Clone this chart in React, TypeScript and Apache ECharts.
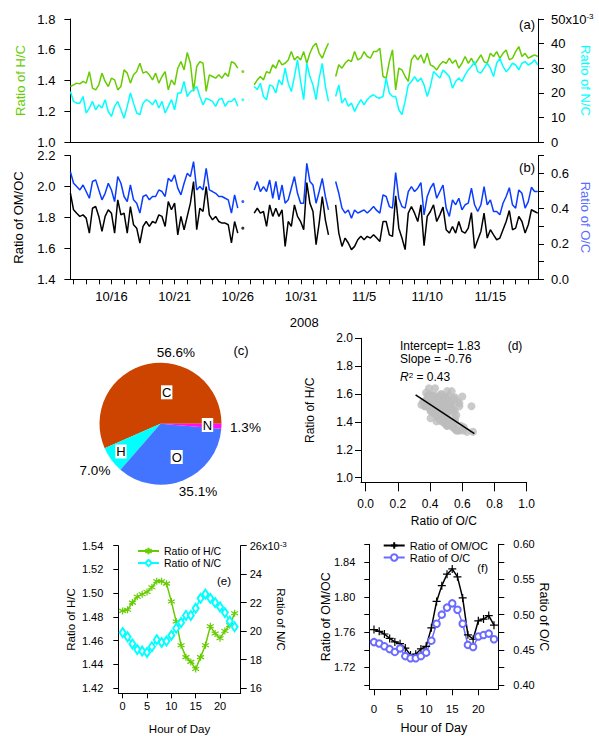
import React, { useEffect, useRef } from 'react';
import * as echarts from 'echarts';

const FONT = 'Liberation Sans, Arial, Helvetica, sans-serif';

// ---------- (a)/(b) time series: day-of-October numbering (11/1 = 32 -> 31+1) ----------
// continuous segments, 6-hourly values
const SEG_START = [12.75, 27.3, 33.75];
const SEG_STEP = [0.25, 0.245, 0.25];

const HC_SEG1 = [
  1.361, 1.372, 1.383, 1.378, 1.394, 1.383, 1.458, 1.35, 1.339, 1.372,
  1.448, 1.394, 1.361, 1.415, 1.404, 1.339, 1.361, 1.469, 1.448, 1.383,
  1.437, 1.458, 1.512, 1.448, 1.458, 1.437, 1.404, 1.448, 1.383, 1.426,
  1.458, 1.339, 1.404, 1.372, 1.48, 1.523, 1.469, 1.582, 1.512, 1.329,
  1.491, 1.523, 1.512, 1.329, 1.437, 1.426, 1.415, 1.437, 1.415, 1.448,
  1.426, 1.523, 1.512, 1.48,
];
const HC_SEG2 = [
  1.372, 1.404, 1.426, 1.404, 1.458, 1.448, 1.502, 1.48, 1.534, 1.502,
  1.512, 1.534, 1.588, 1.534, 1.556, 1.534, 1.588, 1.512, 1.577, 1.621,
  1.642, 1.577, 1.545, 1.599, 1.642,
];
const HC_SEG3 = [
  1.426, 1.502, 1.48, 1.512, 1.534, 1.523, 1.588, 1.534, 1.545, 1.588,
  1.556, 1.545, 1.588, 1.588, 1.61, 1.426, 1.415, 1.523, 1.599, 1.339,
  1.48, 1.469, 1.426, 1.394, 1.534, 1.567, 1.534, 1.567, 1.512, 1.577,
  1.502, 1.491, 1.469, 1.502, 1.523, 1.512, 1.545, 1.512, 1.534, 1.48,
  1.512, 1.556, 1.512, 1.545, 1.502, 1.534, 1.567, 1.523, 1.512, 1.577,
  1.556, 1.588, 1.545, 1.577, 1.599, 1.534, 1.545, 1.588, 1.621, 1.556,
  1.577, 1.545, 1.556, 1.567, 1.556,
];

// N/C in units of 1e-3
const NC_SEG1 = [
  20.5, 16.5, 15.8, 15.8, 18.5, 11.8, 13.8, 16.5, 13.1, 15.1,
  13.8, 17.2, 12.4, 10.4, 14.5, 16.5, 13.1, 9.7, 14.5, 19.9,
  15.8, 11.8, 11.1, 15.8, 17.2, 16.5, 15.1, 17.2, 13.8, 16.5,
  11.8, 14.5, 17.2, 13.1, 19.9, 19.9, 24.6, 18.5, 20.5, 21.3,
  22.6, 18.5, 15.1, 17.8, 17.2, 16.5, 14.5, 17.2, 17.8, 14.5,
  16.5, 16.5, 17.8, 14.5,
];
const NC_SEG2 = [
  22.6, 21.3, 23.9, 18.5, 17.2, 23.2, 22.6, 19.9, 25.3, 23.2,
  30.0, 23.9, 20.5, 26.6, 33.4, 24.6, 17.2, 32.0, 26.6, 23.2,
  17.2, 26.0, 32.0, 22.6, 16.5,
];
const NC_SEG3 = [
  18.5, 23.2, 15.8, 17.8, 14.5, 15.8, 12.4, 15.1, 17.2, 15.1,
  17.2, 18.5, 19.2, 18.2, 17.8, 18.5, 26.0, 19.9, 18.5, 18.5,
  13.1, 11.1, 16.5, 23.2, 24.6, 26.6, 24.6, 26.0, 23.2, 18.5,
  22.6, 28.6, 27.3, 26.0, 29.3, 28.0, 26.6, 21.9, 24.6, 26.0,
  24.6, 27.3, 29.3, 30.7, 32.7, 28.6, 28.0, 30.0, 32.0, 30.0,
  26.6, 32.0, 34.0, 30.7, 28.6, 30.0, 32.0, 31.3, 29.3, 32.0,
  32.7, 31.3, 32.0, 33.4, 31.3,
];

const OMOC_SEG1 = [
  1.957, 1.85, 1.828, 1.807, 1.817, 1.796, 1.699, 1.86, 1.871, 1.807,
  1.71, 1.807, 1.85, 1.828, 1.699, 1.914, 1.817, 1.828, 1.699, 1.871,
  1.753, 1.731, 1.635, 1.742, 1.774, 1.742, 1.774, 1.764, 1.817, 1.807,
  1.742, 1.903, 1.85, 1.893, 1.688, 1.807, 1.721, 1.807, 1.893, 2.032,
  1.721, 1.86, 1.839, 2.0, 1.817, 1.785, 1.807, 1.774, 1.764, 1.764,
  1.753, 1.635, 1.774, 1.699,
];
const OMOC_SEG2 = [
  1.828, 1.86, 1.828, 1.839, 1.742, 1.882, 1.807, 1.86, 1.807, 1.85,
  1.613, 1.774, 1.742, 1.882, 1.807, 1.774, 1.721, 2.026, 1.893, 1.839,
  1.624, 1.764, 1.936, 1.785, 1.688,
];
const OMOC_SEG3 = [
  1.882, 1.699, 1.613, 1.667, 1.635, 1.592, 1.613, 1.656, 1.678, 1.656,
  1.678, 1.667, 1.688, 1.667, 1.645, 1.774, 1.774, 1.688, 1.678, 1.94,
  1.731, 1.667, 1.592, 1.828, 1.871, 1.828, 1.774, 1.882, 1.617, 1.807,
  1.839, 1.882, 1.774, 1.817, 1.867, 1.721, 1.699, 1.742, 1.699, 1.774,
  1.71, 1.699, 1.731, 1.832, 1.6, 1.656, 1.71, 1.828, 1.667, 1.721,
  1.688, 1.656, 1.667, 1.721, 1.774, 1.845, 1.721, 1.731, 1.807, 1.774,
  1.699, 1.753, 1.85, 1.839, 1.828,
];

const OC_SEG1 = [
  0.61, 0.544, 0.525, 0.506, 0.534, 0.497, 0.459, 0.554, 0.563, 0.506,
  0.45, 0.487, 0.544, 0.506, 0.44, 0.582, 0.544, 0.469, 0.44, 0.534,
  0.45, 0.431, 0.375, 0.469, 0.478, 0.45, 0.469, 0.469, 0.506, 0.497,
  0.469, 0.572, 0.554, 0.591, 0.516, 0.478, 0.544, 0.6, 0.582, 0.666,
  0.506, 0.525, 0.506, 0.629, 0.506, 0.497, 0.487, 0.469, 0.469, 0.459,
  0.45, 0.375, 0.478, 0.403,
];
const OC_SEG2 = [
  0.506, 0.554, 0.497, 0.525, 0.497, 0.563, 0.459, 0.554, 0.45, 0.534,
  0.431, 0.45, 0.516, 0.582, 0.487, 0.431, 0.431, 0.657, 0.554, 0.534,
  0.431, 0.497, 0.572, 0.469, 0.393,
];
const OC_SEG3 = [
  0.554, 0.487, 0.403, 0.375, 0.393, 0.346, 0.393, 0.375, 0.384, 0.393,
  0.375, 0.393, 0.412, 0.39, 0.375, 0.478, 0.469, 0.412, 0.403, 0.604,
  0.459, 0.412, 0.403, 0.497, 0.525, 0.497, 0.516, 0.548, 0.365, 0.469,
  0.516, 0.544, 0.459, 0.497, 0.534, 0.403, 0.356, 0.45, 0.422, 0.459,
  0.393, 0.422, 0.431, 0.516, 0.422, 0.384, 0.422, 0.525, 0.422, 0.45,
  0.384, 0.384, 0.365, 0.431, 0.469, 0.519, 0.422, 0.403, 0.506, 0.487,
  0.403, 0.44, 0.521, 0.497, 0.497,
];

// isolated sample inside the first data gap
const ISO_DAY = 26.4;
const ISO_HC = 1.458;
const ISO_NC = 17.2;
const ISO_OMOC = 1.731;
const ISO_OC = 0.44;

const DATE_LABELS = ['10/16', '10/21', '10/26', '10/31', '11/5', '11/10', '11/15'];

// ---------- (c) elemental composition ----------
const PIE_NAMES = ['C', 'H', 'O', 'N'];
const PIE_VALUES = [56.6, 7.0, 35.1, 1.3];
const PIE_COLORS = ['#cc4400', '#00ffff', '#4274ff', '#ff10f0'];

// ---------- (d) regression ----------
const FIT_INTERCEPT = 1.83;
const FIT_SLOPE = -0.76;
const FIT_R2 = 0.43;
const FIT_X = [0.31, 0.675];

// ---------- (e)/(f) diurnal cycles ----------
const HOURS = [0, 1, 2, 3, 4, 5, 6, 7, 8, 9, 10, 11, 12, 13, 14, 15, 16, 17, 18, 19, 20, 21, 22, 23];
const DIURNAL_HC = [1.485, 1.486, 1.492, 1.497, 1.499, 1.501, 1.505, 1.510, 1.510, 1.508, 1.493, 1.476,
  1.456, 1.446, 1.442, 1.436, 1.446, 1.456, 1.472, 1.466, 1.462, 1.468, 1.473, 1.483];
const DIURNAL_NC = [19.9, 19.6, 19.1, 18.7, 18.6, 18.5, 18.9, 19.4, 19.2, 19.3, 19.7, 20.2,
  20.6, 21.1, 21.1, 21.6, 22.3, 22.6, 22.3, 22.0, 21.7, 21.3, 20.7, 20.3];
const DIURNAL_OMOC = [1.763, 1.761, 1.758, 1.753, 1.749, 1.747, 1.742, 1.734, 1.735, 1.741, 1.744, 1.765,
  1.795, 1.813, 1.826, 1.832, 1.823, 1.799, 1.757, 1.752, 1.773, 1.775, 1.779, 1.768];
const DIURNAL_OC = [0.461, 0.459, 0.455, 0.451, 0.447, 0.452, 0.441, 0.438, 0.438, 0.441, 0.446, 0.463,
  0.487, 0.500, 0.510, 0.516, 0.507, 0.487, 0.457, 0.454, 0.469, 0.471, 0.473, 0.465];

const GREEN = '#66cc00';
const CYAN = '#00ffff';
const BLUE = '#0a3cff';
const OC_TITLE = '#5a6cff';
const OC_F = '#6b6bff';

const ASTERISK = 'path://M5,0L5,10M0.67,2.5L9.33,7.5M0.67,7.5L9.33,2.5';
const PLUS = 'path://M5,0L5,10M0,5L10,5';

function segData(k: number, vals: number[]) {
  return vals.map((v, i) => [Number((SEG_START[k] + i * SEG_STEP[k]).toFixed(3)), v]);
}
function dayOf(label: string) {
  const [m, d] = label.split('/').map(Number);
  return m === 10 ? d : 31 + d;
}
function dayLabel(v: number) {
  return v <= 31 ? `10/${v}` : `11/${v - 31}`;
}

const axisLineBlack = { show: true, onZero: false, lineStyle: { color: '#000', width: 1 } };
const tick = (len: number, extra: any = {}) => ({ show: true, length: len, lineStyle: { color: '#000', width: 1 }, ...extra });
const supRich = { sup: { fontSize: 8, verticalAlign: 'top', lineHeight: 8, fontFamily: FONT, color: '#000' } };

function buildOption() {
  const HC = [HC_SEG1, HC_SEG2, HC_SEG3];
  const NC = [NC_SEG1, NC_SEG2, NC_SEG3];
  const OMOC = [OMOC_SEG1, OMOC_SEG2, OMOC_SEG3];
  const OC = [OC_SEG1, OC_SEG2, OC_SEG3];

  const series: any[] = [];
  const ts = (name: string, xi: number, yi: number, data: any[], color: string) => ({
    type: 'line', name, xAxisIndex: xi, yAxisIndex: yi, data, showSymbol: false, symbol: 'none',
    lineStyle: { color, width: 1.5 }, itemStyle: { color }, silent: true,
  });
  for (let k = 0; k < 3; k++) series.push(ts('hc' + k, 0, 0, segData(k, HC[k]), GREEN));
  for (let k = 0; k < 3; k++) series.push(ts('nc' + k, 0, 1, segData(k, NC[k]), CYAN));
  for (let k = 0; k < 3; k++) series.push(ts('omoc' + k, 1, 2, segData(k, OMOC[k]), '#000'));
  for (let k = 0; k < 3; k++) series.push(ts('oc' + k, 1, 3, segData(k, OC[k]), BLUE));
  const iso = (xi: number, yi: number, v: number, color: string) => ({
    type: 'scatter', xAxisIndex: xi, yAxisIndex: yi, data: [[ISO_DAY, v]], symbolSize: 3, itemStyle: { color }, silent: true,
  });
  series.push(iso(0, 0, ISO_HC, GREEN), iso(0, 1, ISO_NC, CYAN), iso(1, 2, ISO_OMOC, '#000'), iso(1, 3, ISO_OC, BLUE));

  // pie (c)
  const innerPos = [[166.7, 392.3], [121, 451.5], [176.7, 457], [207.5, 425]];
  const outerPos = [[175.8, 352.3], [95, 470.7], [198, 491.7], [245.5, 427.3]];
  const pieData = PIE_NAMES.map((n, i) => ({ name: n, value: PIE_VALUES[i], itemStyle: { color: PIE_COLORS[i] } }));
  series.push({
    type: 'pie', center: [160.5, 423.7], radius: 61, startAngle: 0, clockwise: false, silent: true,
    avoidLabelOverlap: false, data: pieData,
    label: { show: true, position: 'inside', formatter: '{b}', color: '#000', fontSize: 13, fontFamily: FONT, backgroundColor: '#fff', padding: [1, 1, 0, 1] },
    labelLine: { show: false },
    labelLayout: (p: any) => ({ x: innerPos[p.dataIndex][0], y: innerPos[p.dataIndex][1], align: 'center', verticalAlign: 'middle' }),
  });
  series.push({
    type: 'pie', center: [160.5, 423.7], radius: 61, startAngle: 0, clockwise: false, silent: true,
    avoidLabelOverlap: false,
    data: PIE_NAMES.map((n, i) => ({ name: n, value: PIE_VALUES[i], itemStyle: { color: 'rgba(0,0,0,0)' } })),
    label: { show: true, position: 'outside', formatter: (p: any) => `${p.value.toFixed(1)}%`, color: '#000', fontSize: 13.5, fontFamily: FONT },
    labelLine: { show: false },
    labelLayout: (p: any) => ({ x: outerPos[p.dataIndex][0], y: outerPos[p.dataIndex][1], align: 'center', verticalAlign: 'middle' }),
  });

  // scatter (d)
  const scatter: number[][] = [];
  for (let k = 0; k < 3; k++) OC[k].forEach((o, i) => scatter.push([o, HC[k][i]]));
  scatter.push([ISO_OC, ISO_HC]);
  series.push({ type: 'scatter', xAxisIndex: 2, yAxisIndex: 4, data: scatter, symbolSize: 8, itemStyle: { color: '#bdbdbd' }, silent: true });
  series.push({
    type: 'line', xAxisIndex: 2, yAxisIndex: 4, data: FIT_X.map((x) => [x, FIT_INTERCEPT + FIT_SLOPE * x]),
    showSymbol: false, symbol: 'none', lineStyle: { color: '#000', width: 1.5 }, silent: true,
  });

  // (e)
  series.push({
    type: 'line', name: 'Ratio of H/C', xAxisIndex: 3, yAxisIndex: 5, data: HOURS.map((h, i) => [h, DIURNAL_HC[i]]),
    symbol: ASTERISK, symbolSize: 7, itemStyle: { color: GREEN, borderColor: GREEN, borderWidth: 1.2 },
    lineStyle: { color: GREEN, width: 1.5 },
  });
  series.push({
    type: 'line', name: 'Ratio of N/C', xAxisIndex: 3, yAxisIndex: 6, data: HOURS.map((h, i) => [h, DIURNAL_NC[i]]),
    symbol: 'emptyDiamond', symbolSize: [6, 9], itemStyle: { color: CYAN, borderWidth: 1 },
    lineStyle: { color: CYAN, width: 1.5 },
  });
  // (f)
  series.push({
    type: 'line', name: 'Ratio of OM/OC', xAxisIndex: 4, yAxisIndex: 7, data: HOURS.map((h, i) => [h, DIURNAL_OMOC[i]]),
    symbol: PLUS, symbolSize: 8, itemStyle: { color: '#000', borderColor: '#000', borderWidth: 1.2 },
    lineStyle: { color: '#000', width: 1.5 },
  });
  series.push({
    type: 'line', name: 'Ratio of O/C', xAxisIndex: 4, yAxisIndex: 8, data: HOURS.map((h, i) => [h, DIURNAL_OC[i]]),
    symbol: 'emptyCircle', symbolSize: 6.5, itemStyle: { color: OC_F, borderWidth: 1.1 },
    lineStyle: { color: OC_F, width: 1.5 },
  });

  const dayTicks: number[] = [];
  for (let d = 13; d <= 49; d++) dayTicks.push(d);
  const dateLabelDays = DATE_LABELS.map(dayOf);

  const lbl = (size: number, margin: number, extra: any = {}) => ({ color: '#000', fontSize: size, fontFamily: FONT, margin, ...extra });
  const nm = (color: string, size: number) => ({ color, fontSize: size, fontFamily: FONT });
  const NMO = { nameMoveOverlap: false };

  const xAxis: any[] = [
    { gridIndex: 0, type: 'value', min: 12.75, max: 49.77, axisLine: axisLineBlack, axisTick: { show: false }, axisLabel: { show: false }, splitLine: { show: false } },
    {
      gridIndex: 1, type: 'value', min: 12.75, max: 49.77, axisLine: axisLineBlack, ...NMO,
      axisTick: tick(5, { customValues: dayTicks }),
      axisLabel: lbl(13, 11, { customValues: dateLabelDays, formatter: (v: number) => dayLabel(v) }),
      splitLine: { show: false }, name: '2008', nameLocation: 'middle', nameGap: 37, nameTextStyle: nm('#000', 13),
    },
    {
      gridIndex: 2, type: 'value', min: -0.029, max: 1.0, axisLine: axisLineBlack, ...NMO,
      axisTick: tick(9, { customValues: [0, 0.2, 0.4, 0.6, 0.8, 1.0] }),
      axisLabel: lbl(12, 16, { customValues: [0, 0.2, 0.4, 0.6, 0.8, 1.0], formatter: (v: number) => v.toFixed(1) }),
      splitLine: { show: false }, name: 'Ratio of O/C', nameLocation: 'middle', nameGap: 33, nameTextStyle: nm('#000', 12),
    },
    {
      gridIndex: 3, type: 'value', min: -0.9, max: 24.25, axisLine: axisLineBlack, ...NMO,
      axisTick: tick(5, { customValues: [0, 5, 10, 15, 20] }),
      axisLabel: lbl(11, 7, { customValues: [0, 5, 10, 15, 20] }),
      splitLine: { show: false }, name: 'Hour of Day', nameLocation: 'middle', nameGap: 30, nameTextStyle: nm('#000', 11.5),
    },
    {
      gridIndex: 4, type: 'value', min: -0.9, max: 23.83, axisLine: axisLineBlack, ...NMO,
      axisTick: tick(6, { customValues: [0, 5, 10, 15, 20] }),
      axisLabel: lbl(11.5, 14, { customValues: [0, 5, 10, 15, 20] }),
      splitLine: { show: false }, name: 'Hour of Day', nameLocation: 'middle', nameGap: 32, nameTextStyle: nm('#000', 12.5),
    },
  ];

  const yAxis: any[] = [
    {
      gridIndex: 0, type: 'value', position: 'left', min: 1.0, max: 1.8, interval: 0.2, axisLine: axisLineBlack, axisTick: tick(6), ...NMO,
      axisLabel: lbl(13, 15, { formatter: (v: number) => v.toFixed(1) }), splitLine: { show: false },
      name: 'Ratio of H/C', nameLocation: 'middle', nameRotate: 90, nameGap: 43, nameTextStyle: nm(GREEN, 13),
    },
    {
      gridIndex: 0, type: 'value', position: 'right', min: 0, max: 50, interval: 10, axisLine: axisLineBlack, axisTick: tick(6), ...NMO,
      axisLabel: lbl(13, 13, { formatter: (v: number) => (v === 50 ? '50x10{sup|-3}' : String(v)), rich: supRich }), splitLine: { show: false },
      name: 'Ratio of N/C', nameLocation: 'middle', nameRotate: -90, nameGap: 41, nameTextStyle: nm(CYAN, 13),
    },
    {
      gridIndex: 1, type: 'value', position: 'left', min: 1.4, max: 2.2, interval: 0.2, axisLine: axisLineBlack, axisTick: tick(6), ...NMO,
      axisLabel: lbl(13, 15, { formatter: (v: number) => v.toFixed(1) }), splitLine: { show: false },
      name: 'Ratio of OM/OC', nameLocation: 'middle', nameRotate: 90, nameGap: 45, nameTextStyle: nm('#000', 13),
    },
    {
      gridIndex: 1, type: 'value', position: 'right', min: 0, max: 0.7, interval: 0.1, axisLine: axisLineBlack, axisTick: tick(6), ...NMO,
      axisLabel: lbl(13, 13, { formatter: (v: number) => (Math.round(v * 10) % 2 === 0 ? v.toFixed(1) : '') }), splitLine: { show: false },
      name: 'Ratio of O/C', nameLocation: 'middle', nameRotate: -90, nameGap: 41, nameTextStyle: nm(OC_TITLE, 13),
    },
    {
      gridIndex: 2, type: 'value', min: 0.967, max: 2.0, axisLine: axisLineBlack, ...NMO,
      axisTick: tick(6, { customValues: [1.0, 1.2, 1.4, 1.6, 1.8, 2.0] }),
      axisLabel: lbl(12, 8, { customValues: [1.0, 1.2, 1.4, 1.6, 1.8, 2.0], formatter: (v: number) => v.toFixed(1) }), splitLine: { show: false },
      name: 'Ratio of H/C', nameLocation: 'middle', nameRotate: 90, nameGap: 45, nameTextStyle: nm('#000', 12),
    },
    {
      gridIndex: 3, type: 'value', position: 'left', min: 1.4155, max: 1.54, axisLine: axisLineBlack, ...NMO,
      axisTick: tick(5, { customValues: [1.42, 1.44, 1.46, 1.48, 1.5, 1.52, 1.54] }),
      axisLabel: lbl(11, 15, { customValues: [1.42, 1.44, 1.46, 1.48, 1.5, 1.52, 1.54], formatter: (v: number) => v.toFixed(2) }), splitLine: { show: false },
      name: 'Ratio of H/C', nameLocation: 'middle', nameRotate: 90, nameGap: 41, nameTextStyle: nm('#000', 11.5),
    },
    {
      gridIndex: 3, type: 'value', position: 'right', min: 15.63, max: 26, axisLine: axisLineBlack, ...NMO,
      axisTick: tick(6, { customValues: [16, 18, 20, 22, 24, 26] }),
      axisLabel: lbl(11, 9, { customValues: [16, 18, 20, 22, 24, 26], formatter: (v: number) => (v === 26 ? '26x10{sup|-3}' : String(v)), rich: supRich }), splitLine: { show: false },
      name: 'Ratio of N/C', nameLocation: 'middle', nameRotate: -90, nameGap: 34, nameTextStyle: nm('#000', 11.5),
    },
    {
      gridIndex: 4, type: 'value', position: 'left', min: 1.6951, max: 1.86, axisLine: axisLineBlack, ...NMO,
      axisTick: tick(5, { customValues: [1.7, 1.72, 1.74, 1.76, 1.78, 1.8, 1.82, 1.84, 1.86] }),
      axisLabel: lbl(11, 14, { customValues: [1.72, 1.76, 1.8, 1.84], formatter: (v: number) => v.toFixed(2) }), splitLine: { show: false },
      name: 'Ratio of OM/OC', nameLocation: 'middle', nameRotate: 90, nameGap: 37, nameTextStyle: nm('#000', 12.5),
    },
    {
      gridIndex: 4, type: 'value', position: 'right', min: 0.3939, max: 0.6, axisLine: axisLineBlack, ...NMO,
      axisTick: tick(6, { customValues: [0.4, 0.425, 0.45, 0.475, 0.5, 0.525, 0.55, 0.575, 0.6] }),
      axisLabel: lbl(11, 15, { customValues: [0.4, 0.45, 0.5, 0.55, 0.6], formatter: (v: number) => v.toFixed(2) }), splitLine: { show: false },
      name: 'Ratio of O/C', nameLocation: 'middle', nameRotate: -90, nameGap: 39, nameTextStyle: nm('#000', 12.5),
    },
  ];

  const txt = (text: string, x: number, y: number, size: number, align = 'center', extra: any = {}) => ({
    type: 'text', x, y, silent: true,
    style: { text, fill: '#000', fontSize: size, fontFamily: FONT, align, verticalAlign: 'middle', ...extra },
  });

  const g = (left: number, top: number, width: number, height: number) => ({
    left, top, width, height, containLabel: false, outerBoundsMode: 'none',
  });

  return {
    animation: false,
    backgroundColor: '#fff',
    textStyle: { fontFamily: FONT },
    grid: [
      g(70.4, 19, 467.6, 123),
      g(70.4, 155.7, 467.6, 123.6),
      g(361, 338.3, 165.7, 144),
      g(118.3, 545.7, 122.4, 147.6),
      g(369.3, 544.3, 129, 145),
    ],
    xAxis,
    yAxis,
    legend: [
      {
        left: 137, top: 545.5, orient: 'vertical', itemWidth: 21, itemHeight: 8, itemGap: 1, padding: 0,
        data: ['Ratio of H/C', 'Ratio of N/C'], textStyle: { color: '#000', fontSize: 10.5, fontFamily: FONT }, selectedMode: false,
      },
      {
        left: 382.7, top: 540, orient: 'vertical', itemWidth: 21, itemHeight: 8, itemGap: 1, padding: 0,
        data: ['Ratio of OM/OC', 'Ratio of O/C'], textStyle: { color: '#000', fontSize: 11, fontFamily: FONT }, selectedMode: false,
      },
    ],
    graphic: [
      txt('(a)', 535, 24, 13, 'right'),
      txt('(b)', 535, 167, 13, 'right'),
      txt('(c)', 241, 350, 13),
      txt('(d)', 515, 346, 12),
      txt('(e)', 224, 580.7, 11.5),
      txt('(f)', 482.7, 568.3, 11.5),
      txt(`Intercept= ${FIT_INTERCEPT.toFixed(2)}`, 400, 346, 12, 'left'),
      txt(`Slope = ${FIT_SLOPE.toFixed(2)}`, 400, 359, 12, 'left'),
      txt(`{i|R}{sup|2} = ${FIT_R2.toFixed(2)}`, 400, 377, 12, 'left', {
        rich: { i: { fontStyle: 'italic', fontSize: 12, fontFamily: FONT }, sup: { fontSize: 8, verticalAlign: 'top', lineHeight: 8, fontFamily: FONT } },
      }),
    ],
    series,
  };
}

export default function App() {
  const ref = useRef<HTMLDivElement>(null);
  useEffect(() => {
    if (!ref.current) return;
    const chart = echarts.init(ref.current, null, { renderer: 'svg', width: 599, height: 736 });
    chart.setOption(buildOption() as any);
    return () => chart.dispose();
  }, []);
  return <div ref={ref} style={{ position: 'absolute', left: 0, top: 0, width: 599, height: 736, background: '#fff' }} />;
}
